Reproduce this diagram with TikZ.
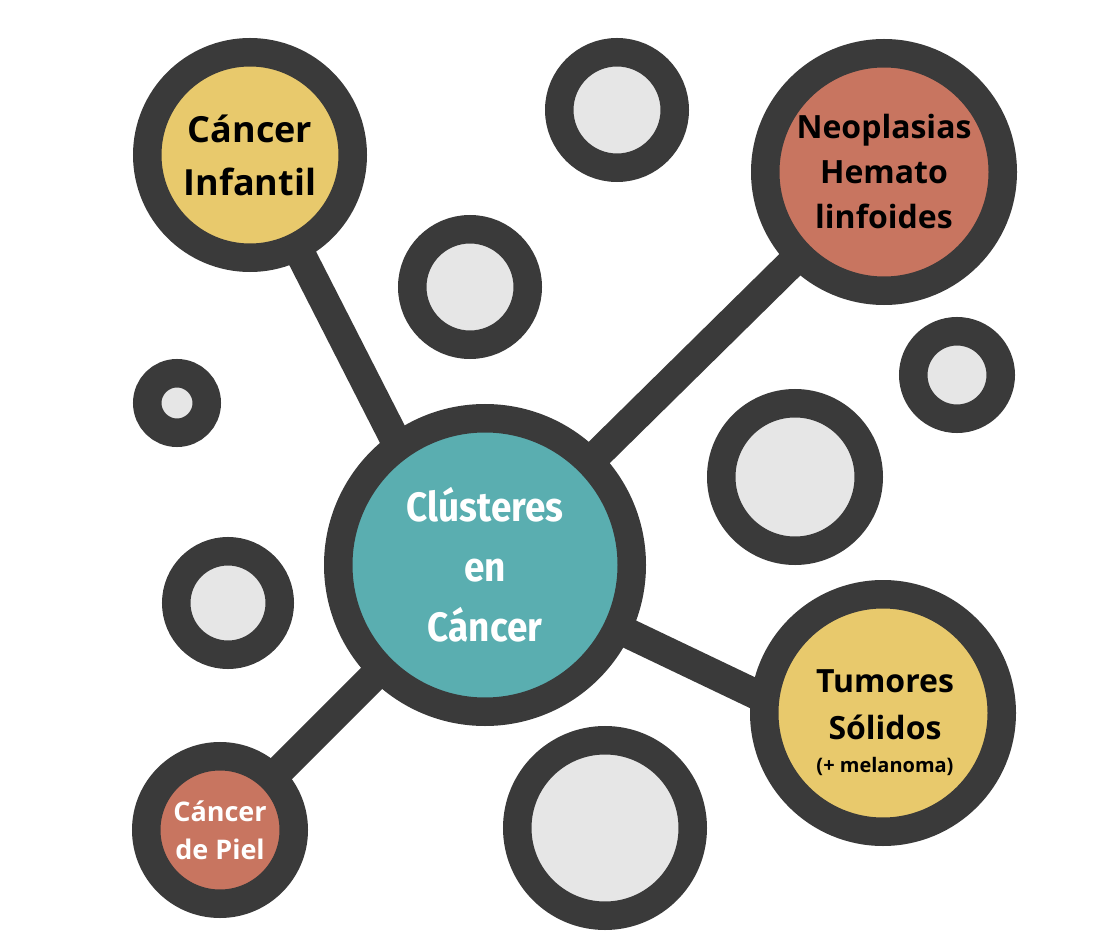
\documentclass[tikz,border=0pt]{standalone}
\usepackage{fontspec}
\setmainfont{Open Sans}
\newfontfamily\condfont[FakeStretch=0.9]{Fira Sans}
\usetikzlibrary{backgrounds}
\definecolor{ringc}{HTML}{3A3A3A}
\definecolor{grayc}{HTML}{E6E6E6}
\definecolor{yelc}{HTML}{E8C96C}
\definecolor{salc}{HTML}{C87560}
\definecolor{tealc}{HTML}{5AAEB0}
\tikzset{
  ring/.style={circle, draw=ringc, line width=28.5pt, inner sep=0pt, outer sep=0pt, align=center},
  link/.style={draw=ringc, line width=30pt},
}
\begin{document}
\begin{tikzpicture}[x=1pt,y=-1pt]
\useasboundingbox (0,0) rectangle (1096,952);
% gray decorative circles
\node[ring, fill=grayc, minimum size=115.5pt] (g1) at (617,110) {};
\node[ring, fill=grayc, minimum size=115.5pt] (g2) at (470,287) {};
\node[ring, fill=grayc, minimum size=87.5pt] (g3) at (957,375) {};
\node[ring, fill=grayc, minimum size=59.5pt] (g4) at (177,403) {};
\node[ring, fill=grayc, minimum size=147.5pt] (g5) at (795,477) {};
\node[ring, fill=grayc, minimum size=103.5pt] (g6) at (228,603) {};
\node[ring, fill=grayc, minimum size=175.5pt] (g7) at (605,828) {};
% labelled circles
\node[ring, fill=yelc, minimum size=205.5pt, font=\bfseries\fontsize{36}{53}\selectfont] (inf) at (250,155) {Cáncer\\Infantil};
\node[ring, fill=salc, minimum size=237.5pt, font=\bfseries\fontsize{32}{45}\selectfont] (neo) at (884,172) {Neoplasias\\Hemato\\linfoides};
\node[ring, fill=tealc, minimum size=293.5pt, text=white, font=\condfont\bfseries\fontsize{41}{60}\selectfont] (ctr) at (485,565) {Clústeres\\en\\Cáncer};
\node[ring, fill=yelc, minimum size=237.5pt] (tum) at (883,713) {};
\node[align=center, inner sep=0pt, font=\bfseries\fontsize{32}{47}\selectfont] (tumlbl) at (885,723) {Tumores\\Sólidos\\[-14pt]{\fontsize{20}{20}\selectfont(+ melanoma)}};
\node[ring, fill=salc, minimum size=147.5pt, text=white, font=\bfseries\fontsize{27}{38}\selectfont] (piel) at (220,830) {Cáncer\\de Piel};
% connectors
\begin{scope}[on background layer]
\draw[link] (inf.center) -- ([xshift=-26pt]ctr.center);
\draw[link] (neo.center) -- (ctr.center);
\draw[link] (ctr.center) -- ([yshift=-42pt]tum.center);
\draw[link] (ctr.center) -- (piel.center);
\end{scope}
\end{tikzpicture}
\end{document}
